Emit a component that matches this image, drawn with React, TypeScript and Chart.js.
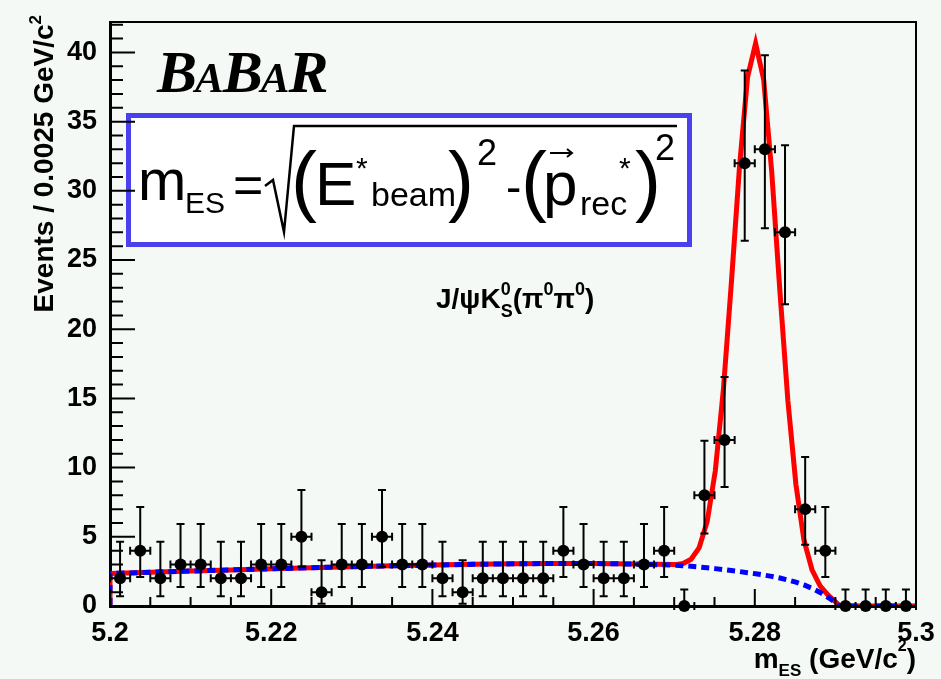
import React, { useEffect, useRef } from 'react';
import { Chart, registerables } from 'chart.js';

Chart.register(...registerables);

// ---------- data ----------
const binCenters = [
  5.20125, 5.20375, 5.20625, 5.20875, 5.21125, 5.21375, 5.21625, 5.21875, 5.22125, 5.22375,
  5.22625, 5.22875, 5.23125, 5.23375, 5.23625, 5.23875, 5.24125, 5.24375, 5.24625, 5.24875,
  5.25125, 5.25375, 5.25625, 5.25875, 5.26125, 5.26375, 5.26625, 5.26875, 5.27125, 5.27375,
  5.27625, 5.27875, 5.28125, 5.28375, 5.28625, 5.28875, 5.29125, 5.29375, 5.29625, 5.29875,
];
const counts = [
  2, 4, 2, 3, 3, 2, 2, 3, 3, 5,
  1, 3, 3, 5, 3, 3, 2, 1, 2, 2,
  2, 2, 4, 3, 2, 2, 3, 4, 0, 8,
  12, 32, 33, 27, 7, 4, 0, 0, 0, 0,
];
const errLow = [
  1.29, 1.91, 1.29, 1.63, 1.63, 1.29, 1.29, 1.63, 1.63, 2.16,
  0.83, 1.63, 1.63, 2.16, 1.63, 1.63, 1.29, 0.83, 1.29, 1.29,
  1.29, 1.29, 1.91, 1.63, 1.29, 1.29, 1.63, 1.91, 0, 2.77,
  3.41, 5.6, 5.7, 5.2, 2.58, 1.91, 0, 0, 0, 0,
];
const errHigh = [
  2.64, 3.16, 2.64, 2.92, 2.92, 2.64, 2.64, 2.92, 2.92, 3.38,
  2.3, 2.92, 2.92, 3.38, 2.92, 2.92, 2.64, 2.3, 2.64, 2.64,
  2.64, 2.64, 3.16, 2.92, 2.64, 2.64, 2.92, 3.16, 1.2, 3.95,
  4.55, 6.7, 6.8, 6.3, 3.77, 3.16, 1.2, 1.2, 1.2, 1.2,
];
const binHalfWidth = 0.00125;

const curveX = [
  5.2, 5.2, 5.205, 5.21, 5.215, 5.22, 5.225, 5.23, 5.235, 5.24, 5.245, 5.25, 5.255, 5.26, 5.265,
  5.2701, 5.2711, 5.2721, 5.2731, 5.2741, 5.2751, 5.2761, 5.2771, 5.2781, 5.2791, 5.2801,
  5.2811, 5.2821, 5.2831, 5.2841, 5.2851, 5.2861, 5.2871, 5.2881, 5.2891, 5.2901,
  5.2905, 5.295, 5.3,
];
const backgroundFit = [
  0, 2.35, 2.44, 2.53, 2.61, 2.69, 2.77, 2.84, 2.9, 2.96, 3.01, 3.05, 3.07, 3.07, 3.03,
  2.95, 2.91, 2.87, 2.82, 2.76, 2.7, 2.63, 2.56, 2.49, 2.41, 2.33,
  2.24, 2.14, 2.02, 1.88, 1.72, 1.52, 1.28, 0.98, 0.62, 0.22,
  0, 0, 0,
];
const totalFit = [
  0, 2.35, 2.44, 2.53, 2.61, 2.69, 2.77, 2.84, 2.9, 2.96, 3.01, 3.05, 3.07, 3.07, 3.03,
  2.99, 3.07, 3.38, 4.22, 6.12, 9.77, 15.62, 23.41, 31.72, 38.21, 40.65,
  38.04, 31.37, 22.87, 14.87, 8.79, 4.75, 2.62, 1.45, 0.78, 0.26,
  0, 0, 0,
];

const yMajorTicks = [0, 5, 10, 15, 20, 25, 30, 35, 40];
const yMinorTicks = [1, 2, 3, 4, 6, 7, 8, 9, 11, 12, 13, 14, 16, 17, 18, 19, 21, 22, 23, 24, 26, 27, 28, 29, 31, 32, 33, 34, 36, 37, 38, 39, 41, 42];
const xMajorTicks = [5.2, 5.22, 5.24, 5.26, 5.28, 5.3];
const xMinorTicks = [5.205, 5.21, 5.215, 5.225, 5.23, 5.235, 5.245, 5.25, 5.255, 5.265, 5.27, 5.275, 5.285, 5.29, 5.295];

const xMin = 5.2;
const xMax = 5.3;
const yMin = 0;
const yMax = 42.2;

const yTitle = 'Events / 0.0025 GeV/c';
const channelLabel = 'J/\u03C8K';

// ---------- styling ----------
const SANS = '"Liberation Sans", Arial, Helvetica, sans-serif';
const SERIF = '"Liberation Serif", "Times New Roman", serif';
const BG = '#f4f9f5';

function put(ctx: CanvasRenderingContext2D, s: string, x: number, y: number, font: string, align: CanvasTextAlign = 'left') {
  ctx.font = font;
  ctx.textAlign = align;
  ctx.textBaseline = 'alphabetic';
  ctx.fillText(s, x, y);
  return ctx.measureText(s).width;
}

function drawFrame(chart: any) {
  const ctx = chart.ctx as CanvasRenderingContext2D;
  const a = chart.chartArea;
  const left = Math.round(a.left);
  const right = Math.round(a.right);
  const top = Math.round(a.top);
  const bottom = Math.round(a.bottom);
  ctx.save();
  ctx.fillStyle = '#000000';
  ctx.fillRect(left - 1, top - 1, right - left + 2, 2);
  ctx.fillRect(left - 1, bottom - 1, right - left + 2, 3);
  ctx.fillRect(left - 1, top - 1, 3, bottom - top + 2);
  ctx.fillRect(right - 1, top - 1, 2, bottom - top + 2);
  ctx.restore();
}

function drawTexts(chart: any) {
  const ctx = chart.ctx as CanvasRenderingContext2D;
  ctx.save();
  ctx.fillStyle = '#000';
  ctx.save();
  ctx.translate(53, 15);
  ctx.rotate(-Math.PI / 2);
  ctx.font = `bold 28px ${SANS}`;
  const w1 = ctx.measureText(yTitle).width;
  ctx.font = `bold 17px ${SANS}`;
  const w2 = ctx.measureText('2').width;
  put(ctx, yTitle, -(w1 + w2), 0, `bold 28px ${SANS}`);
  put(ctx, '2', -w2, -12, `bold 17px ${SANS}`);
  ctx.restore();

  {
    const fBig = `bold 28px ${SANS}`;
    const fSub = `bold 17px ${SANS}`;
    const fSup = `bold 16px ${SANS}`;
    ctx.font = fBig;
    const wm = ctx.measureText('m').width;
    const wmid = ctx.measureText(' (GeV/c').width;
    const wp = ctx.measureText(')').width;
    ctx.font = fSub;
    const wes = ctx.measureText('ES').width;
    ctx.font = fSup;
    const w2s = ctx.measureText('2').width;
    const total = wm + wes + wmid + w2s + wp;
    let x = 916 - total;
    const base = 668;
    x += put(ctx, 'm', x, base, fBig);
    x += put(ctx, 'ES', x, base + 8, fSub);
    x += put(ctx, ' (GeV/c', x, base, fBig);
    x += put(ctx, '2', x, base - 17, fSup);
    put(ctx, ')', x, base, fBig);
  }

  {
    const fB = `italic bold 60px ${SERIF}`;
    const fA = `italic bold 43px ${SERIF}`;
    let x = 157;
    const base = 92;
    x += put(ctx, 'B', x, base, fB) - 2;
    x += put(ctx, 'A', x, base, fA) - 1;
    x += put(ctx, 'B', x, base, fB) - 2;
    x += put(ctx, 'A', x, base, fA) - 1;
    put(ctx, 'R', x, base, fB);
  }

  {
    const fBig = `bold 28px ${SANS}`;
    const fSm = `bold 18px ${SANS}`;
    const base = 308;
    let x = 436;
    x += put(ctx, channelLabel, x, base, fBig);
    const a = put(ctx, '0', x, base - 13, fSm);
    const b = put(ctx, 'S', x, base + 9, fSm);
    x += Math.max(a, b);
    x += put(ctx, '(\u03C0', x, base, fBig);
    x += put(ctx, '0', x, base - 13, fSm);
    x += put(ctx, '\u03C0', x, base, fBig);
    x += put(ctx, '0', x, base - 13, fSm);
    put(ctx, ')', x, base, fBig);
  }

  {
    ctx.fillStyle = '#ffffff';
    ctx.fillRect(126, 113, 566, 134);
    ctx.strokeStyle = '#4a40ee';
    ctx.lineWidth = 5;
    ctx.strokeRect(128.5, 115.5, 561, 129);
    ctx.fillStyle = '#000';
    const R = (px: number) => `${px}px ${SANS}`;
    put(ctx, 'm', 138, 200, R(58));
    put(ctx, 'ES', 185, 213, R(30));
    put(ctx, '=', 233, 203, R(52));
    ctx.strokeStyle = '#000';
    ctx.lineWidth = 2.5;
    ctx.beginPath();
    ctx.moveTo(265, 186);
    ctx.lineTo(273, 180);
    ctx.lineTo(284, 232);
    ctx.lineTo(294, 126);
    ctx.lineTo(677, 126);
    ctx.stroke();
    put(ctx, '(', 291, 207, R(78));
    put(ctx, 'E', 315, 205, R(62));
    put(ctx, '*', 356, 178, R(30));
    put(ctx, 'beam', 371, 206, R(34));
    put(ctx, ')', 448, 207, R(78));
    put(ctx, '2', 477, 165, R(36));
    put(ctx, '-', 506, 203, R(46));
    put(ctx, '(', 521, 207, R(78));
    put(ctx, 'p', 543, 205, R(62));
    ctx.lineWidth = 2;
    ctx.beginPath();
    ctx.moveTo(550, 153);
    ctx.lineTo(572, 153);
    ctx.moveTo(567, 149);
    ctx.lineTo(572, 153);
    ctx.lineTo(567, 157);
    ctx.stroke();
    put(ctx, 'rec', 580, 215, R(34));
    put(ctx, '*', 619, 178, R(30));
    put(ctx, ')', 635, 207, R(78));
    put(ctx, '2', 655, 160, R(36));
  }
  ctx.restore();
}

function drawMarks(chart: any) {
  const ctx = chart.ctx as CanvasRenderingContext2D;
  const xs = chart.scales.x;
  const ys = chart.scales.y;
  const a = chart.chartArea;
  ctx.save();
  ctx.setLineDash([]);
  ctx.strokeStyle = '#000';
  ctx.lineWidth = 2;
  ctx.beginPath();
  // ticks (inward, ROOT style)
  yMajorTicks.forEach((v) => {
    const py = ys.getPixelForValue(v);
    ctx.moveTo(a.left, py);
    ctx.lineTo(a.left + 25, py);
  });
  yMinorTicks.forEach((v) => {
    const py = ys.getPixelForValue(v);
    ctx.moveTo(a.left, py);
    ctx.lineTo(a.left + 13, py);
  });
  xMajorTicks.forEach((v) => {
    const px = xs.getPixelForValue(v);
    ctx.moveTo(px, a.bottom);
    ctx.lineTo(px, a.bottom - 17);
  });
  xMinorTicks.forEach((v) => {
    const px = xs.getPixelForValue(v);
    ctx.moveTo(px, a.bottom);
    ctx.lineTo(px, a.bottom - 9);
  });
  // error bars
  for (let i = 0; i < binCenters.length; i++) {
    const cx = xs.getPixelForValue(binCenters[i]);
    const cy = ys.getPixelForValue(counts[i]);
    const yHi = ys.getPixelForValue(counts[i] + errHigh[i]);
    const yLo = ys.getPixelForValue(counts[i] - errLow[i]);
    const xL = xs.getPixelForValue(binCenters[i] - binHalfWidth);
    const xR = xs.getPixelForValue(binCenters[i] + binHalfWidth);
    ctx.moveTo(cx, yHi);
    ctx.lineTo(cx, yLo);
    ctx.moveTo(cx - 4, yHi);
    ctx.lineTo(cx + 4, yHi);
    ctx.moveTo(cx - 4, yLo);
    ctx.lineTo(cx + 4, yLo);
    ctx.moveTo(xL, cy);
    ctx.lineTo(xR, cy);
    ctx.moveTo(xL, cy - 4);
    ctx.lineTo(xL, cy + 4);
    ctx.moveTo(xR, cy - 4);
    ctx.lineTo(xR, cy + 4);
  }
  ctx.stroke();
  ctx.restore();
}

const rootPlugin = {
  id: 'rootStyle',
  beforeDraw(chart: any) {
    const ctx = chart.ctx as CanvasRenderingContext2D;
    ctx.save();
    ctx.fillStyle = BG;
    ctx.fillRect(0, 0, chart.width, chart.height);
    ctx.restore();
  },
  beforeDatasetsDraw(chart: any) {
    drawTexts(chart);
    drawFrame(chart);
  },
  afterDatasetsDraw(chart: any) {
    drawMarks(chart);
  },
};

export default function App() {
  const canvasRef = useRef<HTMLCanvasElement | null>(null);

  useEffect(() => {
    const canvas = canvasRef.current;
    if (!canvas) return;
    Chart.defaults.font.family = SANS;
    const tickFont = { family: SANS, size: 27, weight: 'bold' as const };
    const chart = new Chart(canvas, {
      type: 'line',
      data: {
        datasets: [
          {
            label: 'Data',
            type: 'scatter',
            data: binCenters.map((x, i) => ({ x, y: counts[i] })),
            pointRadius: 6,
            pointBackgroundColor: '#000',
            pointBorderColor: '#000',
            pointBorderWidth: 0,
            showLine: false,
            clip: false as any,
            order: 0,
          } as any,
          {
            label: 'Background fit',
            data: curveX.map((x, i) => ({ x, y: backgroundFit[i] })),
            borderColor: '#0000ff',
            borderWidth: 5,
            borderDash: [8, 5],
            pointRadius: 0,
            fill: false,
            tension: 0,
            order: 1,
          },
          {
            label: 'Total fit',
            data: curveX.map((x, i) => ({ x, y: totalFit[i] })),
            borderColor: '#ff0000',
            borderWidth: 5,
            pointRadius: 0,
            fill: false,
            tension: 0,
            order: 2,
          },
        ],
      },
      options: {
        animation: false,
        responsive: true,
        maintainAspectRatio: false,
        devicePixelRatio: 1,
        layout: { padding: { top: 22, right: 25, left: 0, bottom: 0 } },
        plugins: { legend: { display: false }, tooltip: { enabled: false } },
        scales: {
          x: {
            type: 'linear',
            min: xMin,
            max: xMax,
            grid: { display: false },
            border: { display: false },
            afterBuildTicks: (s: any) => { s.ticks = xMajorTicks.map((value) => ({ value })); },
            ticks: {
              autoSkip: false,
              maxRotation: 0,
              padding: 3,
              color: '#000',
              font: tickFont,
              callback: (v: any) => String(parseFloat(Number(v).toFixed(3))),
            },
            afterFit: (s: any) => { s.height = 73; },
          },
          y: {
            type: 'linear',
            min: yMin,
            max: yMax,
            grid: { display: false },
            border: { display: false },
            afterBuildTicks: (s: any) => { s.ticks = yMajorTicks.map((value) => ({ value })); },
            ticks: {
              padding: 5,
              color: '#000',
              font: tickFont,
              callback: (v: any) => String(v),
            },
            afterFit: (s: any) => { s.width = 110; },
          },
        },
      },
      plugins: [rootPlugin],
    });
    return () => chart.destroy();
  }, []);

  return (
    <div style={{ position: 'fixed', left: 0, top: 0, width: 941, height: 679, background: BG }}>
      <canvas ref={canvasRef} />
    </div>
  );
}
